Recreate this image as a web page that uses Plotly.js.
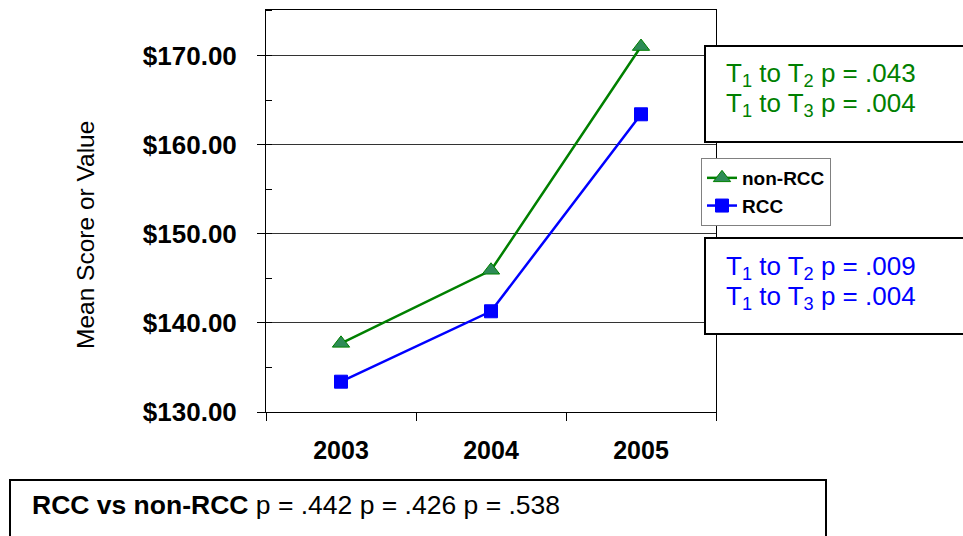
<!DOCTYPE html>
<html><head><meta charset="utf-8">
<script src="https://cdn.plot.ly/plotly-3.0.1.min.js"></script>
<style>html,body{margin:0;padding:0;background:#fff}#chart{width:963px;height:536px}</style>
</head><body><div id="chart"></div>
<script>
const years = ['2003', '2004', '2005'];
const nonRCC = [137.7, 145.9, 171.0];
const RCC = [133.4, 141.3, 163.4];
const seriesNames = ['non-RCC', 'RCC'];
const yTicks = [130, 140, 150, 160, 170];
const yTickText = ['$130.00', '$140.00', '$150.00', '$160.00', '$170.00'];
const yTitle = 'Mean Score or Value';
const greenNotes = ['T<sub>1</sub> to T<sub>2</sub> p = .043', 'T<sub>1</sub> to T<sub>3</sub> p = .004'];
const blueNotes = ['T<sub>1</sub> to T<sub>2</sub> p = .009', 'T<sub>1</sub> to T<sub>3</sub> p = .004'];
const bottomNote = '<b>RCC vs non-RCC</b> p = .442 p = .426 p = .538';

const W = 963, H = 536, L = 266, R = 716, T = 10, B = 412;
const px = x => (x - L) / (R - L);
const py = y => (B - y) / (B - T);
const FONT = 'Arial, Liberation Sans, sans-serif';

const traces = [
  {x: years, y: nonRCC, name: seriesNames[0], type: 'scatter', mode: 'lines+markers',
   line: {color: '#008000', width: 2.5},
   marker: {symbol: 'triangle-up', size: 15, color: '#2E8B57', line: {color: '#008000', width: 1}}},
  {x: years, y: RCC, name: seriesNames[1], type: 'scatter', mode: 'lines+markers',
   line: {color: '#0000FF', width: 2.5},
   marker: {symbol: 'square', size: 13, color: '#0000FF', line: {color: '#0000FF', width: 1}}}
];

function noteAnn(text, y, color) {
  return {xref: 'paper', yref: 'paper', x: px(724), y: py(y), xanchor: 'left', yanchor: 'middle', align: 'left',
    text: text, showarrow: false, font: {size: 26, color: color, family: FONT}};
}

const boxLine = {color: '#000', width: 2};
const layout = {
  width: W, height: H,
  margin: {l: L, r: W - R, t: T, b: H - B},
  paper_bgcolor: '#fff', plot_bgcolor: '#fff',
  font: {family: FONT, color: '#000'},
  showlegend: true,
  legend: {x: px(701), y: py(158), xanchor: 'left', yanchor: 'top',
    bgcolor: '#fff', bordercolor: '#808080', borderwidth: 1,
    font: {size: 19, family: FONT, weight: 'bold', color: '#000'},
    tracegroupgap: 0, itemwidth: 30},
  xaxis: {type: 'category', range: [-0.5, 2.5], showline: true, linecolor: '#000', linewidth: 1,
    mirror: true, ticks: 'outside', tickson: 'boundaries', ticklen: 8, tickcolor: '#000',
    showgrid: false, zeroline: false, ticklabelstandoff: 16,
    tickfont: {size: 25, family: FONT, weight: 'bold'}},
  yaxis: {range: [130, 175.1], tickvals: yTicks, ticktext: yTickText,
    showline: true, linecolor: '#000', linewidth: 1, mirror: true,
    ticks: 'outside', ticklen: 8, tickcolor: '#000', ticklabelstandoff: 15,
    minor: {ticks: 'inside', dtick: 5, tick0: 130, ticklen: 6, tickcolor: '#000', showgrid: false},
    showgrid: true, gridcolor: '#333', gridwidth: 1, zeroline: false,
    tickfont: {size: 26, family: FONT, weight: 'bold'}},
  shapes: [
    {type: 'rect', xref: 'paper', yref: 'paper', x0: px(705), x1: px(975), y0: py(46), y1: py(142), line: boxLine, fillcolor: '#fff', layer: 'above'},
    {type: 'rect', xref: 'paper', yref: 'paper', x0: px(705), x1: px(975), y0: py(238), y1: py(334), line: boxLine, fillcolor: '#fff', layer: 'above'},
    {type: 'rect', xref: 'paper', yref: 'paper', x0: px(10), x1: px(826), y0: py(480), y1: py(545), line: boxLine, fillcolor: '#fff', layer: 'above'}
  ],
  annotations: [
    {xref: 'paper', yref: 'paper', x: px(86), y: py(235), xanchor: 'center', yanchor: 'middle',
     text: yTitle, textangle: -90, showarrow: false, font: {size: 24.5, color: '#000', family: FONT}},
    noteAnn(greenNotes[0], 74, '#008000'),
    noteAnn(greenNotes[1], 104, '#008000'),
    noteAnn(blueNotes[0], 267, '#0000FF'),
    noteAnn(blueNotes[1], 297, '#0000FF'),
    {xref: 'paper', yref: 'paper', x: px(30), y: py(505), xanchor: 'left', yanchor: 'middle', align: 'left',
     text: bottomNote, showarrow: false, font: {size: 26.5, color: '#000', family: FONT}}
  ]
};

Plotly.newPlot('chart', traces, layout, {displayModeBar: false, staticPlot: true});
</script></body></html>
